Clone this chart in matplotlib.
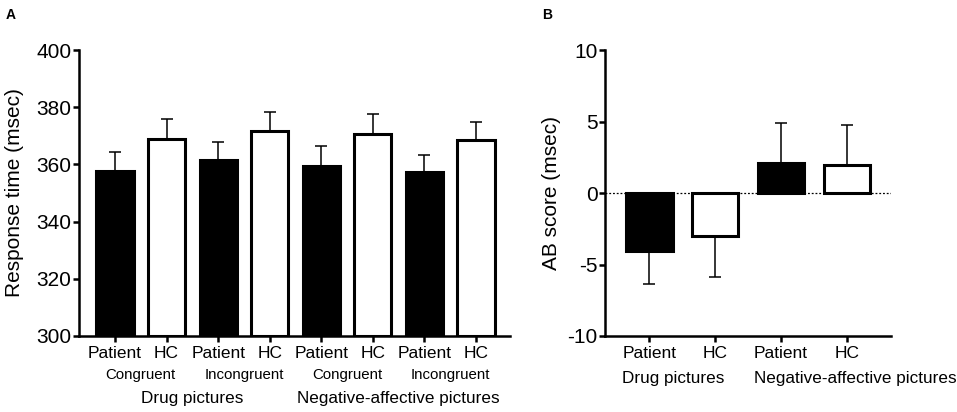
import matplotlib
matplotlib.use('Agg')
import matplotlib.pyplot as plt
import numpy as np

plt.rcParams['font.family'] = ['Liberation Sans', 'DejaVu Sans']
plt.rcParams['axes.unicode_minus'] = False

# panel A: response times
groups_a = ['Patient', 'HC', 'Patient', 'HC', 'Patient', 'HC', 'Patient', 'HC']
means_a = [357.8, 368.8, 361.6, 371.8, 359.4, 370.6, 357.2, 368.5]
sem_a = [6.4, 7.2, 6.4, 6.6, 7.0, 7.0, 6.0, 6.4]
cond_a = ['Congruent', 'Incongruent', 'Congruent', 'Incongruent']
pics = ['Drug pictures', 'Negative-affective pictures']

# panel B: AB scores
groups_b = ['Patient', 'HC', 'Patient', 'HC']
means_b = [-4.03, -2.98, 2.12, 1.98]
sem_b = [2.33, 2.87, 2.78, 2.78]

fill = ['black', 'white']

fig = plt.figure(figsize=(9.57, 4.12), dpi=100)
axA = fig.add_axes([0.0825, 0.1845, 0.4504, 0.694])
axB = fig.add_axes([0.6322, 0.1845, 0.2989, 0.694])

def style(ax):
    for s in ['top', 'right']:
        ax.spines[s].set_visible(False)
    for s in ['left', 'bottom']:
        ax.spines[s].set_linewidth(1.8)
    ax.tick_params(axis='both', width=1.8, length=4.5, direction='out')
    ax.tick_params(axis='y', labelsize=15, pad=1)
    ax.tick_params(axis='x', labelsize=12.5, pad=3)

# ---- A
xa = np.arange(len(means_a))
colors_a = [fill[i % 2] for i in range(len(means_a))]
axA.errorbar(xa, means_a, yerr=[np.zeros(len(sem_a)), sem_a], fmt='none',
             ecolor='black', elinewidth=1.1, capsize=4.5, capthick=1.1, zorder=1)
axA.bar(xa, np.array(means_a) - 300, bottom=300, width=0.72, color=colors_a,
        edgecolor='black', linewidth=2.2, zorder=2)
axA.set_ylim(300, 400)
axA.set_yticks([300, 320, 340, 360, 380, 400])
axA.set_xlim(-0.7, 7.66)
axA.set_xticks(xa)
axA.set_xticklabels(groups_a)
axA.set_ylabel('Response time (msec)', fontsize=15)
axA.yaxis.set_label_coords(-0.128, 0.5)
style(axA)
tr = axA.get_xaxis_transform()
for i, c in enumerate(cond_a):
    axA.text(2 * i + 0.5, -0.136, c, transform=tr, ha='center', va='center', fontsize=10.8)
for i, p in enumerate(pics):
    axA.text(4 * i + 1.5, -0.217, p, transform=tr, ha='center', va='center', fontsize=12.3)

# ---- B
xb = np.arange(len(means_b))
colors_b = [fill[i % 2] for i in range(len(means_b))]
lo = [s if m < 0 else 0 for m, s in zip(means_b, sem_b)]
hi = [s if m >= 0 else 0 for m, s in zip(means_b, sem_b)]
axB.axhline(0, color='black', linewidth=0.9, linestyle=(0, (1.5, 1.5)), zorder=0)
axB.errorbar(xb, means_b, yerr=[lo, hi], fmt='none', ecolor='black',
             elinewidth=1.1, capsize=4.5, capthick=1.1, zorder=1)
axB.bar(xb, means_b, width=0.71, color=colors_b, edgecolor='black',
        linewidth=2.2, zorder=2)
axB.set_ylim(-10, 10)
axB.set_yticks([-10, -5, 0, 5, 10])
axB.set_xlim(-0.67, 3.67)
axB.set_xticks(xb)
axB.set_xticklabels(groups_b)
axB.set_ylabel('AB score (msec)', fontsize=15)
axB.yaxis.set_label_coords(-0.155, 0.5)
style(axB)
trb = axB.get_xaxis_transform()
for i, p in enumerate(pics):
    axB.text(2 * i - 0.41, -0.147, p, transform=trb, ha='left', va='center', fontsize=12.3)

fig.text(0.006, 0.963, 'A', fontsize=10, fontweight='bold', va='center')
fig.text(0.567, 0.963, 'B', fontsize=10, fontweight='bold', va='center')

fig.savefig('out.png', dpi=100)
